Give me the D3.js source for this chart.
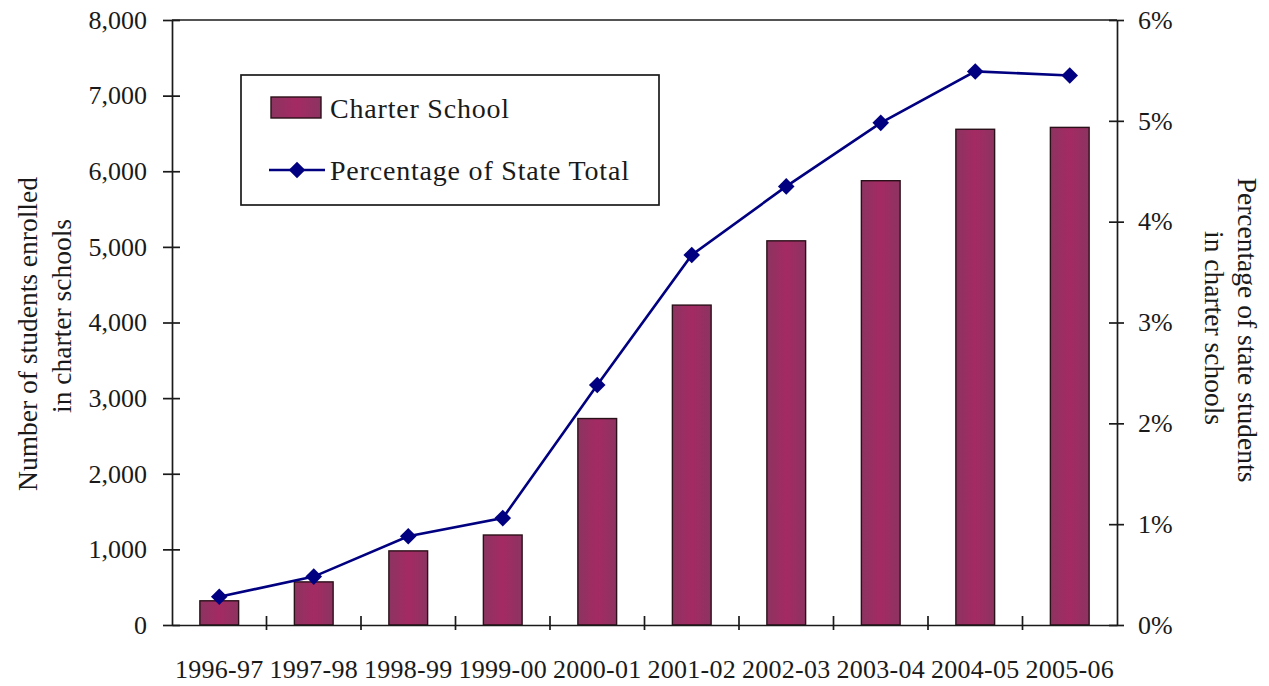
<!DOCTYPE html>
<html>
<head>
<meta charset="utf-8">
<script src="https://cdn.jsdelivr.net/npm/d3@7"></script>
<style>
  html, body { margin: 0; padding: 0; background: #fff; }
  svg { display: block; }
  text { font-family: "Liberation Serif", "Times New Roman", serif; fill: #1a1a1a; }
</style>
</head>
<body>
<svg id="chart" width="1269" height="686"></svg>
<script>
// School years on the category axis
const years = ["1996-97", "1997-98", "1998-99", "1999-00", "2000-01",
               "2001-02", "2002-03", "2003-04", "2004-05", "2005-06"];
// Students enrolled in charter schools
const enrolled = [320, 570, 980, 1190, 2730, 4230, 5080, 5875, 6555, 6580];
// Charter enrollment as a percentage of all state students
const pctOfState = [0.28, 0.48, 0.88, 1.06, 2.38, 3.67, 4.35, 4.98, 5.49, 5.45];
// Tick values for both value axes
const countTicks = [0, 1000, 2000, 3000, 4000, 5000, 6000, 7000, 8000];
const pctTicks = [0, 1, 2, 3, 4, 5, 6];

const svg = d3.select("#chart");
const plotL = 172, plotR = 1117, plotT = 20, plotB = 625;
const FONT = 26;
const INK = "#1a1a1a";

// Bar fill: slightly brighter in the middle of each column
const grad = svg.append("defs").append("linearGradient")
  .attr("id", "barFill").attr("x1", "0").attr("x2", "1").attr("y1", "0").attr("y2", "0");
grad.append("stop").attr("offset", "0").attr("stop-color", "#8c3461");
grad.append("stop").attr("offset", "0.5").attr("stop-color", "#a42a63");
grad.append("stop").attr("offset", "1").attr("stop-color", "#8c3461");

const x = d3.scaleBand().domain(years).range([plotL, plotR]).paddingInner(0).paddingOuter(0);
const yCount = d3.scaleLinear().domain([0, 8000]).range([plotB, plotT]);
const yPct = d3.scaleLinear().domain([0, 6]).range([plotB, plotT]);

const barW = x.bandwidth() * 0.41;

// Bars: enrollment
svg.append("g").selectAll("rect")
  .data(years)
  .join("rect")
  .attr("x", d => x(d) + x.bandwidth() / 2 - barW / 2)
  .attr("y", (d, i) => yCount(enrolled[i]))
  .attr("width", barW)
  .attr("height", (d, i) => plotB - yCount(enrolled[i]))
  .attr("fill", "url(#barFill)")
  .attr("stroke", "#2a1018")
  .attr("stroke-width", 1.4);

// Frame: top border line
svg.append("line")
  .attr("x1", plotL).attr("x2", plotR).attr("y1", plotT).attr("y2", plotT)
  .attr("stroke", INK).attr("stroke-width", 1.7);

const styleTicks = g => g.selectAll("text")
  .style("font-size", FONT + "px").attr("fill", INK)
  .style("font-family", "'Liberation Serif', serif");

// Left axis (counts)
const gL = svg.append("g").attr("transform", `translate(${plotL},0)`)
  .call(d3.axisLeft(yCount).tickValues(countTicks).tickFormat(d3.format(",")).tickSize(0).tickPadding(25));
gL.selectAll(".tick").append("line").attr("x1", -9).attr("x2", 8).attr("stroke", INK).attr("stroke-width", 1.7);
gL.select(".domain").attr("stroke", INK).attr("stroke-width", 1.7);
styleTicks(gL);

// Right axis (percent)
const gR = svg.append("g").attr("transform", `translate(${plotR},0)`)
  .call(d3.axisRight(yPct).tickValues(pctTicks).tickFormat(d => d + "%").tickSize(0).tickPadding(21));
gR.selectAll(".tick").append("line").attr("x1", -8).attr("x2", 7).attr("stroke", INK).attr("stroke-width", 1.7);
gR.select(".domain").attr("stroke", INK).attr("stroke-width", 1.7);
styleTicks(gR);

// Bottom axis (years), ticks at category boundaries
const gB = svg.append("g").attr("transform", `translate(0,${plotB})`)
  .call(d3.axisBottom(x).tickSize(0).tickPadding(35));
gB.select(".domain").attr("stroke", INK).attr("stroke-width", 1.7);
styleTicks(gB);
gB.selectAll("text").style("letter-spacing", "0.3px");
gB.append("g").selectAll("line")
  .data(years.slice(1))
  .join("line")
  .attr("x1", d => x(d)).attr("x2", d => x(d))
  .attr("y1", -9).attr("y2", 5)
  .attr("stroke", INK).attr("stroke-width", 1.7);

// Percentage line with diamond markers
const cx = d => x(d) + x.bandwidth() / 2;
const line = d3.line().x((d, i) => cx(years[i])).y(d => yPct(d));
svg.append("path")
  .datum(pctOfState)
  .attr("d", line)
  .attr("fill", "none")
  .attr("stroke", "#000080")
  .attr("stroke-width", 2.6);

const diamond = d3.symbol().type(d3.symbolDiamond2).size(175);
svg.append("g").selectAll("path")
  .data(pctOfState)
  .join("path")
  .attr("d", diamond)
  .attr("transform", (d, i) => `translate(${cx(years[i])},${yPct(d)})`)
  .attr("fill", "#000080");

// Axis titles
const titleStyle = sel => sel.style("font-size", "27.5px").attr("text-anchor", "middle").attr("fill", INK);
svg.append("text").attr("transform", "translate(37,334) rotate(-90)").text("Number of students enrolled").call(titleStyle);
svg.append("text").attr("transform", "translate(71,316) rotate(-90)").text("in charter schools").call(titleStyle);
svg.append("text").attr("transform", "translate(1238,330) rotate(90)").text("Percentage of state students").call(titleStyle);
svg.append("text").attr("transform", "translate(1205,328) rotate(90)").text("in charter schools").call(titleStyle);

// Legend
const lg = svg.append("g");
lg.append("rect").attr("x", 241).attr("y", 75).attr("width", 418).attr("height", 130)
  .attr("fill", "#fff").attr("stroke", INK).attr("stroke-width", 1.7);
lg.append("rect").attr("x", 271).attr("y", 97).attr("width", 50).attr("height", 21)
  .attr("fill", "url(#barFill)").attr("stroke", "#2a1018").attr("stroke-width", 1.4);
lg.append("text").attr("x", 330).attr("y", 118)
  .style("font-size", "28px").style("letter-spacing", "0.8px").text("Charter School");
lg.append("line").attr("x1", 269).attr("x2", 325).attr("y1", 170).attr("y2", 170)
  .attr("stroke", "#000080").attr("stroke-width", 2.6);
lg.append("path").attr("d", diamond).attr("transform", "translate(297,170)").attr("fill", "#000080");
lg.append("text").attr("x", 330).attr("y", 180)
  .style("font-size", "28px").style("letter-spacing", "0.8px").text("Percentage of State Total");
</script>
</body>
</html>
